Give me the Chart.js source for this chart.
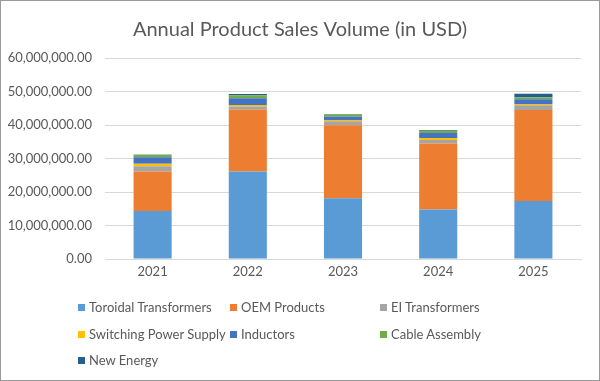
<!DOCTYPE html>
<html>
<head>
<meta charset="utf-8">
<script src="https://cdn.jsdelivr.net/npm/chart.js@4"></script>
<style>
  html, body { margin: 0; padding: 0; background: #fff; }
  #wrap { position: relative; width: 600px; height: 381px; overflow: hidden; background: #fff; }
  #c { position: absolute; left: 0; top: 0; }
  #frame { position: absolute; left: 0; top: 0; width: 600px; height: 381px; box-sizing: border-box; border: 1px solid #9a9a9a; pointer-events: none; }
  #legend { position: absolute; left: 0; top: 0; width: 600px; height: 381px; pointer-events: none;
            font-family: Lato, "Open Sans", sans-serif; font-size: 13px; color: #595959; }
  .li { position: absolute; white-space: nowrap; line-height: 16px; }
  .li i { display: inline-block; width: 7px; height: 7px; margin-right: 4px; vertical-align: 1px; }
</style>
</head>
<body>
<div id="wrap">
  <canvas id="c" width="600" height="381"></canvas>
  <div id="legend"></div>
  <div id="frame"></div>
</div>
<script>
const categories = ["2021", "2022", "2023", "2024", "2025"];
const seriesNames = ["Toroidal Transformers", "OEM Products", "EI Transformers", "Switching Power Supply", "Inductors", "Cable Assembly", "New Energy"];
const toroidalTransformers = [14300000, 26100000, 18100000, 14800000, 17300000];
const oemProducts          = [11800000, 18500000, 21800000, 19700000, 27200000];
const eiTransformers       = [1600000, 900000, 1200000, 1000000, 1400000];
const switchingPowerSupply = [700000, 500000, 400000, 600000, 400000];
const inductors            = [2000000, 2000000, 1000000, 1500000, 1400000];
const cableAssembly        = [700000, 900000, 600000, 700000, 600000];
const newEnergy            = [100000, 350000, 150000, 200000, 1000000];
const yTicks = [0, 10000000, 20000000, 30000000, 40000000, 50000000, 60000000];

const colors = ["#5B9BD5", "#ED7D31", "#A5A5A5", "#FFC000", "#4472C4", "#70AD47", "#255E91"];
const values = [toroidalTransformers, oemProducts, eiTransformers, switchingPowerSupply, inductors, cableAssembly, newEnergy];

const datasets = seriesNames.map((n, i) => ({
  label: n,
  data: values[i],
  backgroundColor: colors[i],
  borderWidth: 0,
  categoryPercentage: 0.4,
  barPercentage: 1.0
}));

const fmt = v => Number(v).toLocaleString('en-US', { minimumFractionDigits: 2, maximumFractionDigits: 2 });

const chart = new Chart(document.getElementById('c'), {
  type: 'bar',
  data: { labels: categories, datasets },
  options: {
    responsive: false,
    animation: false,
    layout: { padding: { left: 0, right: 0, top: 0, bottom: 100 } },
    plugins: {
      legend: { display: false },
      tooltip: { enabled: false },
      title: {
        display: true,
        text: "Annual Product Sales Volume (in USD)",
        color: '#595959',
        font: { family: 'Lato, "Open Sans", sans-serif', size: 20, weight: 'normal' },
        padding: { top: 18, bottom: 16 }
      }
    },
    scales: {
      x: {
        stacked: true,
        grid: { display: false, drawTicks: false },
        border: { display: true, color: '#d9d9d9' },
        ticks: { color: '#595959', font: { family: 'Lato, "Open Sans", sans-serif', size: 13 }, padding: 5 },
        afterFit: s => { s.height = 22; }
      },
      y: {
        stacked: true,
        min: 0, max: 60000000,
        afterBuildTicks: s => { s.ticks = yTicks.map(v => ({ value: v })); },
        grid: { color: '#d9d9d9', drawTicks: false },
        border: { display: false },
        ticks: { color: '#595959', font: { family: 'Lato, "Open Sans", sans-serif', size: 13 }, padding: 13, callback: v => fmt(v) },
        afterFit: s => { s.width = 105; }
      },
      yRight: {
        position: 'right',
        display: true,
        min: 0, max: 60000000,
        grid: { display: false, drawTicks: false },
        border: { display: false },
        ticks: { display: false },
        afterFit: s => { s.width = 19; }
      }
    }
  }
});

// HTML legend built from the chart's datasets
const legendPos = [
  [78, 307], [230, 307], [380, 307],
  [78, 334], [230, 334], [380, 334],
  [78, 360]
];
const lg = document.getElementById('legend');
chart.data.datasets.forEach((ds, i) => {
  const d = document.createElement('div');
  d.className = 'li';
  d.style.left = legendPos[i][0] + 'px';
  d.style.top = (legendPos[i][1] - 8) + 'px';
  d.innerHTML = '<i style="background:' + ds.backgroundColor + '"></i>' + ds.label;
  lg.appendChild(d);
});
</script>
</body>
</html>
